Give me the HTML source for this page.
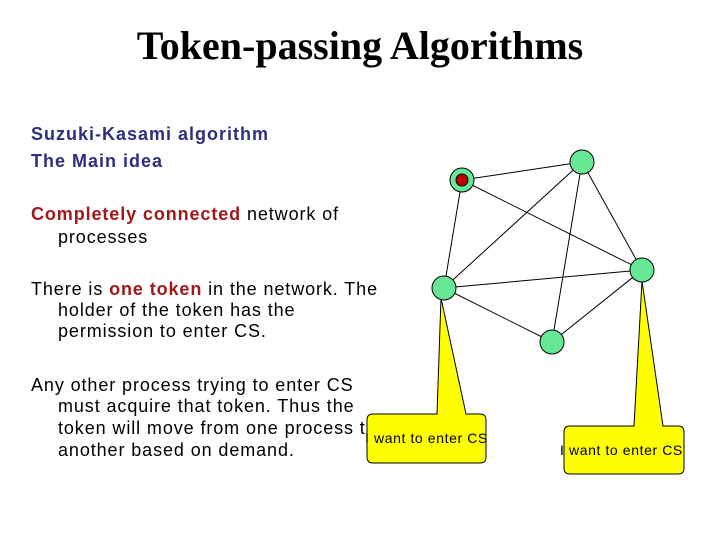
<!DOCTYPE html>
<html><head><style>
body{margin:0;width:720px;height:540px;background:#fff;position:relative;overflow:hidden;font-family:"Liberation Sans",sans-serif;}
.t{position:absolute;white-space:nowrap;font-size:18px;letter-spacing:0.9px;line-height:22px;color:#000;}
.r{color:#a01818;font-weight:bold;letter-spacing:0.9px;}
.b{color:#2e2e80;font-weight:bold;letter-spacing:1px;}
</style></head><body>
<div class="t" style="left:0;width:720px;text-align:center;top:20px;font-family:'Liberation Serif',serif;font-size:40px;letter-spacing:0;line-height:52px;font-weight:bold;">Token-passing Algorithms</div>
<div class="t b" style="left:31px;top:123px;">Suzuki-Kasami algorithm</div>
<div class="t b" style="left:31px;top:150px;">The Main idea</div>
<div class="t" style="left:31px;top:203px;"><span class="r">Completely connected</span> network of</div>
<div class="t" style="left:58px;top:226px;">processes</div>
<div class="t" style="left:31px;top:278px;">There is <span class="r">one token</span> in the network. The</div>
<div class="t" style="left:58px;top:299px;">holder of the token has the</div>
<div class="t" style="left:58px;top:320px;">permission to enter CS.</div>
<div class="t" style="left:31px;top:374px;">Any other process trying to enter CS</div>
<div class="t" style="left:58px;top:395px;">must acquire that token. Thus the</div>
<div class="t" style="left:58px;top:417px;">token will move from one process to</div>
<div class="t" style="left:58px;top:439px;">another based on demand.</div>
<svg width="720" height="540" style="position:absolute;left:0;top:0">
<g stroke="#000" stroke-width="1">
<line x1="462" y1="180" x2="582" y2="162"/><line x1="462" y1="180" x2="444" y2="288"/>
<line x1="462" y1="180" x2="642" y2="270"/><line x1="582" y1="162" x2="444" y2="288"/>
<line x1="582" y1="162" x2="552" y2="342"/><line x1="582" y1="162" x2="642" y2="270"/>
<line x1="444" y1="288" x2="642" y2="270"/><line x1="444" y1="288" x2="552" y2="342"/>
<line x1="552" y1="342" x2="642" y2="270"/>
</g>
<path d="M441,298 L437,414 L373,414 Q367,414 367,420 L367,457 Q367,463 373,463 L480,463 Q486,463 486,457 L486,420 Q486,414 480,414 L466,414 Z" fill="#ffff00" stroke="#000"/>
<path d="M642,281 L634,426 L570,426 Q564,426 564,432 L564,468 Q564,474 570,474 L678,474 Q684,474 684,468 L684,432 Q684,426 678,426 L663,426 Z" fill="#ffff00" stroke="#000"/>
<g fill="#66e895" stroke="#000" stroke-width="1">
<circle cx="462" cy="180" r="12"/><circle cx="582" cy="162" r="12"/><circle cx="642" cy="270" r="12"/>
<circle cx="444" cy="288" r="12"/><circle cx="552" cy="342" r="12"/>
</g>
<circle cx="462" cy="180" r="6" fill="#c00000" stroke="#000"/>
<text x="365" y="443" font-family="Liberation Sans" font-size="14" letter-spacing="0.6">I want to enter CS</text>
<text x="560" y="455" font-family="Liberation Sans" font-size="14" letter-spacing="0.6">I want to enter CS</text>
</svg>
</body></html>
